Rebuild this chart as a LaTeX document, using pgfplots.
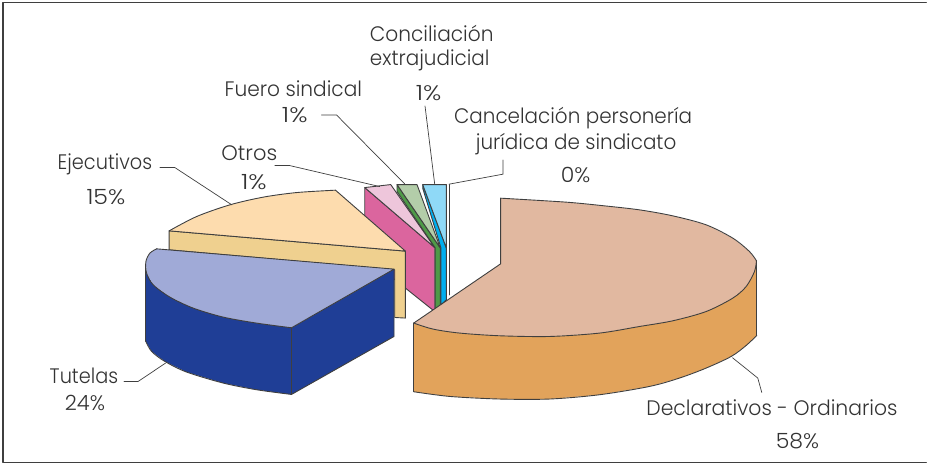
\documentclass[border=0pt]{standalone}
\usepackage{pgfplots}
\pgfplotsset{compat=1.18}
\usepackage{fontspec}
\setmainfont{Poppins Light}
\definecolor{edge}{HTML}{3F3F3F}
\definecolor{txt}{HTML}{333333}
\definecolor{dtop}{HTML}{E1B8A0}\definecolor{dside}{HTML}{E2A35B}
\definecolor{etop}{HTML}{FDDCAE}\definecolor{eside}{HTML}{EFD08F}
\definecolor{ttop}{HTML}{A0AAD7}\definecolor{tside}{HTML}{1F3E96}
\definecolor{ptop}{HTML}{EEC6DB}\definecolor{pside}{HTML}{DB659E}
\definecolor{gtop}{HTML}{B3CDA9}\definecolor{gside}{HTML}{4E9A47}
\definecolor{btop}{HTML}{8FD9F7}\definecolor{bside}{HTML}{00AEEF}
\newcommand{\lab}[4]{\node[text=txt,inner sep=0pt,anchor=center,xscale=#3] at (axis cs:#1,#2) {\fontsize{21}{25}\selectfont #4};}
\begin{document}
\begin{tikzpicture}
\begin{axis}[width=927pt,height=464pt,scale only axis,hide axis,
 xmin=0,xmax=927,ymin=0,ymax=464,y dir=reverse,clip=false,
 every axis plot/.append style={line join=round,line cap=round}]
% frame
\addplot[draw=edge,line width=1.3pt] coordinates {(927,2.5)(3,2.5)(3,462.5)(927,462.5)};
% white sliver
\addplot[draw=edge,line width=1pt] coordinates {(450,184.7)(450,295)};
% Otros
\addplot[fill=pside,draw=edge,line width=0.9pt] coordinates {(365,187.7)(435,247.7)(435,311.7)(365,255.7)} -- cycle;
\addplot[fill=ptop,draw=edge,line width=0.9pt] coordinates {(365,187.7)(391,184.7)(435,247.7)} -- cycle;
% Fuero sindical
\addplot[fill=gside,draw=edge,line width=0.9pt] coordinates {(397.3,184.7)(440.7,248.3)(440.7,305)(435.5,311.7)(435.5,248)(397.3,191.7)} -- cycle;
\addplot[fill=gtop,draw=edge,line width=0.9pt] coordinates {(397.3,184.7)(417.3,184.7)(440.7,248.3)} -- cycle;
% Conciliacion
\addplot[fill=bside,draw=edge,line width=0.9pt] coordinates {(423,184.7)(423,188.3)(441.3,248.3)(441.3,305)(446.7,300)(446.7,248.3)} -- cycle;
\addplot[fill=btop,draw=edge,line width=0.9pt] coordinates {(423,184.7)(446.7,184.7)(446.7,248.3)} -- cycle;
% Ejecutivos
\addplot[fill=eside,draw=edge,line width=0.9pt] coordinates {(169.3,231)(405.7,251.3)(405.7,318.3)(395,317.7)(395,270)(169.3,250)} -- cycle;
\addplot[fill=etop,draw=none] coordinates {(169.3,231)(196.7,216.7)(230,205)(263.3,197.3)(296.7,192.7)(335.7,190.3)(405.7,251.3)} -- cycle;
\addplot[draw=edge,line width=0.9pt,smooth] coordinates {(169.3,231)(196.7,216.7)(230,205)(263.3,197.3)(296.7,192.7)(335.7,190.3)};
\addplot[draw=edge,line width=0.9pt] coordinates {(335.7,190.3)(405.7,251.3)(169.3,231)};
% Tutelas
\addplot[fill=tside,draw=none] coordinates {(146,267.3)(146,341.7)(151.7,351.7)(165,361.7)(186.7,372.3)(223.3,383.3)(256.7,390)(291.7,394.7)(394.3,336.7)(394.3,269.3)(291.7,328)(256.7,323.3)(223.3,317.3)(193.3,308.3)(170,297.3)(153.3,285)(146.7,273.3)} -- cycle;
\addplot[draw=edge,line width=0.9pt,smooth] coordinates {(146,341.7)(151.7,351.7)(165,361.7)(186.7,372.3)(223.3,383.3)(256.7,390)(291.7,394.7)};
\addplot[draw=edge,line width=0.9pt] coordinates {(146,267.3)(146,341.7)};
\addplot[draw=edge,line width=0.9pt] coordinates {(291.7,394.7)(394.3,336.7)(394.3,269.3)};
\addplot[draw=edge,line width=0.9pt] coordinates {(291.7,328)(291.7,394.7)};
\addplot[fill=ttop,draw=none] coordinates {(156.7,249)(394.3,269.3)(291.7,328)(256.7,323.3)(223.3,317.3)(193.3,308.3)(170,297.3)(153.3,285)(146.7,273.3)(146,261.7)(150,253.3)} -- cycle;
\addplot[draw=edge,line width=0.9pt,smooth] coordinates {(291.7,328)(256.7,323.3)(223.3,317.3)(193.3,308.3)(170,297.3)(153.3,285)(146.7,273.3)(146,261.7)(150,253.3)(156.7,249)};
\addplot[draw=edge,line width=0.9pt] coordinates {(156.7,249)(394.3,269.3)(291.7,328)};
% Declarativos
\addplot[fill=dside,draw=none] coordinates {(414,323.3)(414,392)(450,396.7)(500,399.3)(550,399.3)(600,395)(650,386.7)(680,378.3)(706.7,368.3)(731.7,356.7)(746.7,345.7)(757.3,335.7)(757.3,261)(755,271.7)(746.7,286.7)(733.3,298.3)(706.7,311.7)(673.3,321)(640,326.7)(600,333.3)(550,336.7)(500,336)(460,333.3)(433.3,329.3)} -- cycle;
\addplot[draw=edge,line width=0.9pt,smooth] coordinates {(414,392)(450,396.7)(500,399.3)(550,399.3)(600,395)(650,386.7)(680,378.3)(706.7,368.3)(731.7,356.7)(746.7,345.7)(757.3,335.7)};
\addplot[draw=edge,line width=0.9pt] coordinates {(414,323.3)(414,392)};
\addplot[draw=edge,line width=0.9pt] coordinates {(757.3,261)(757.3,335.7)};
\addplot[fill=dtop,draw=none] coordinates {(501,198.3)(566.7,202.3)(605,206)(640,210)(673.3,216)(706.7,225)(733.3,238.3)(750,251.7)(757,261)(755,271.7)(746.7,286.7)(733.3,298.3)(706.7,311.7)(673.3,321)(640,326.7)(600,333.3)(550,336.7)(500,336)(460,333.3)(433.3,329.3)(414,323.3)(501,264)} -- cycle;
\addplot[draw=edge,line width=0.9pt,smooth] coordinates {(501,198.3)(566.7,202.3)(605,206)(640,210)(673.3,216)(706.7,225)(733.3,238.3)(750,251.7)(757,261)};
\addplot[draw=edge,line width=0.9pt,smooth] coordinates {(757,261)(755,271.7)(746.7,286.7)(733.3,298.3)(706.7,311.7)(673.3,321)(640,326.7)(600,333.3)(550,336.7)(500,336)(460,333.3)(433.3,329.3)(414,323.3)};
\addplot[draw=edge,line width=0.9pt] coordinates {(414,323.3)(501,264)(501,198.3)};
% leader lines
\addplot[draw=edge,line width=0.7pt] coordinates {(425.3,106)(435,184.3)};
\addplot[draw=edge,line width=0.7pt] coordinates {(321.7,115)(336.7,115)(405,184)};
\addplot[draw=edge,line width=0.7pt] coordinates {(275,165.7)(290,165.7)(380,186.7)};
\addplot[draw=edge,line width=0.7pt] coordinates {(503.3,160)(503.3,174.3)(449.3,184.3)};
\addplot[draw=edge,line width=0.7pt] coordinates {(160,167.7)(175,167.7)(232,205)};
\addplot[draw=edge,line width=0.7pt] coordinates {(124,381.7)(138.3,381.7)(165.7,363.3)};
\addplot[draw=edge,line width=0.7pt] coordinates {(733,358)(758.3,378.3)(762.3,392.7)};
% labels
\lab{432}{33}{0.96}{Conciliación}
\lab{430}{60}{0.95}{extrajudicial}
\lab{429}{93}{1.2}{1\%}
\lab{293.5}{89}{0.96}{Fuero sindical}
\lab{295}{115}{1.2}{1\%}
\lab{573.5}{118}{0.95}{Cancelación personería}
\lab{576.5}{144}{0.95}{jurídica de sindicato}
\lab{576}{175}{1.05}{0\%}
\lab{249.5}{153}{1}{Otros}
\lab{254}{182}{1.2}{1\%}
\lab{105}{164}{0.92}{Ejecutivos}
\lab{106}{197}{1.13}{15\%}
\lab{84}{376}{0.92}{Tutelas}
\lab{85}{403}{1}{24\%}
\lab{772.5}{408}{0.97}{Declarativos - Ordinarios}
\lab{798}{441}{1.05}{58\%}
\path[use as bounding box] (axis cs:0,0) rectangle (axis cs:927,464);
\end{axis}
\end{tikzpicture}
\end{document}
